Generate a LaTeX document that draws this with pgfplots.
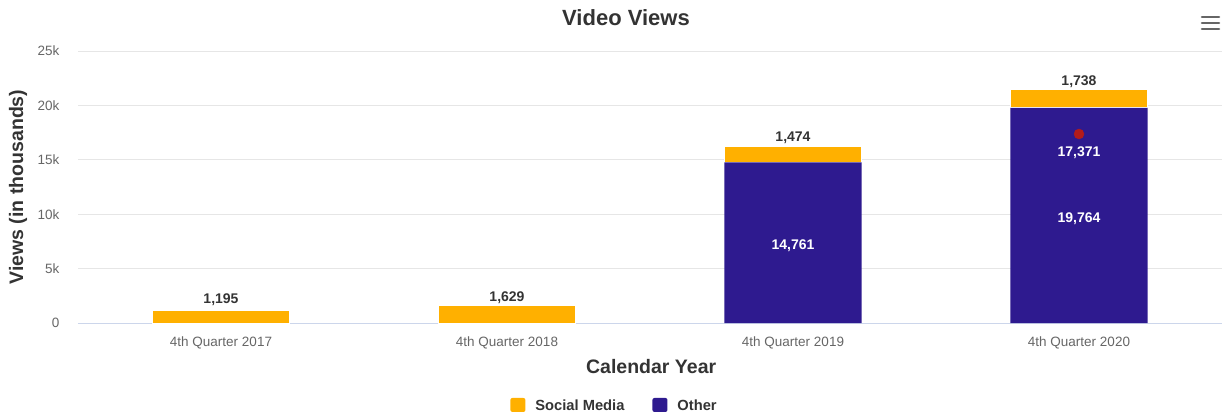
\documentclass[border=0pt]{standalone}
\usepackage{pgfplots}
\pgfplotsset{compat=1.18}
\usepackage{fontspec}
\setmainfont{Liberation Sans}
\definecolor{smorange}{HTML}{FFB000}
\definecolor{othpurple}{HTML}{2E1A8F}
\definecolor{dotred}{HTML}{B31B1B}
\definecolor{txtgray}{HTML}{666666}
\definecolor{txtdark}{HTML}{333333}
\definecolor{gridgray}{HTML}{E6E6E6}
\definecolor{axisblue}{HTML}{CCD6EB}
\pgfplotsset{
  common/.style={
    scale only axis, width=1144pt, height=272pt,
    xmin=-0.5, xmax=3.5, ymin=0, ymax=25000,
    /pgf/number format/assume math mode=true,
  }
}
\begin{document}
\begin{tikzpicture}
\begin{axis}[common,
  ybar stacked, bar width=137pt,
  axis line style={draw=none},
  ymajorgrids, grid style={draw=gridgray, line width=1pt},
  ytick={0,5000,10000,15000,20000,25000},
  yticklabels={0,5k,10k,15k,20k,25k},
  extra y ticks={0}, extra y tick labels={},
  extra y tick style={grid style={draw=axisblue, line width=1pt}},
  scaled y ticks=false,
  xtick={0,1,2,3},
  xticklabels={4th Quarter 2017,4th Quarter 2018,4th Quarter 2019,4th Quarter 2020},
  major tick length=0pt,
  yticklabel style={font=\fontsize{13.5}{15}\selectfont, text=txtgray, anchor=east, xshift=-15pt},
  xticklabel style={font=\fontsize{13.5}{15}\selectfont, text=txtgray, anchor=center, yshift=-20pt},
  title={Video Views},
  title style={at={(axis description cs:0.479,1)}, anchor=center, yshift=27pt,
    font=\fontsize{22}{25}\selectfont\bfseries, text=txtdark},
  xlabel={Calendar Year},
  ylabel={Views (in thousands)},
  every axis x label/.style={at={(axis description cs:0.501,0)}, anchor=center, yshift=-44pt,
    font=\fontsize{19.5}{22}\selectfont\bfseries, text=txtdark},
  every axis y label/.style={at={(axis description cs:-0.0524,0.5)}, anchor=center, rotate=90,
    font=\fontsize{19.5}{22}\selectfont\bfseries, text=txtdark},
  legend columns=2, reverse legend,
  legend style={at={(axis description cs:0.469,-0.305)}, anchor=center, draw=none, fill=none,
    font=\fontsize{14.7}{16}\selectfont\bfseries, text=txtdark,
    /tikz/every even column/.append style={column sep=26pt}},
  legend cell align=left,
]
\addplot[fill=othpurple, draw=none,
  legend image code/.code={\fill[othpurple, draw=none, rounded corners=2pt] (0pt,-6pt) rectangle (15pt,8pt); \path[draw=none, fill=none] (0pt,0pt) -- (23pt,0pt);}]
  coordinates {(0,0) (1,0) (2,14761) (3,19764)};
\addplot[fill=smorange, draw=white, line width=1pt,
  legend image code/.code={\fill[smorange, draw=none, rounded corners=2pt] (0pt,-6pt) rectangle (15pt,8pt); \path[draw=none, fill=none] (0pt,0pt) -- (23pt,0pt);},
  nodes near coords, point meta=explicit symbolic,
  every node near coord/.style={anchor=south, yshift=7pt, font=\fontsize{14}{15}\selectfont\bfseries, text=txtdark}]
  coordinates {(0,1195)[1,195] (1,1629)[1,629] (2,1474)[1,474] (3,1738)[1,738]};
\legend{Other, Social Media}
\end{axis}
\begin{axis}[common, hide axis]
\addplot[only marks, mark=*, mark size=5pt, color=dotred,
  nodes near coords, point meta=explicit symbolic,
  every node near coord/.style={anchor=north, yshift=-9pt, font=\fontsize{14}{15}\selectfont\bfseries, text=white}]
  coordinates {(3,17371)[17,371]};
\addplot[draw=none, mark=none,
  nodes near coords, point meta=explicit symbolic,
  every node near coord/.style={anchor=center, yshift=-3pt, font=\fontsize{14}{15}\selectfont\bfseries, text=white}]
  coordinates {(2,7380.5)[14,761] (3,9882)[19,764]};
\end{axis}
\draw[line width=2.6pt, txtgray, line cap=round] (1124pt,306pt) -- (1141pt,306pt);
\draw[line width=2.6pt, txtgray, line cap=round] (1124pt,300pt) -- (1141pt,300pt);
\draw[line width=2.6pt, txtgray, line cap=round] (1124pt,294pt) -- (1141pt,294pt);
\path[use as bounding box] (-78pt,-95pt) rectangle (1147pt,323pt);
\end{tikzpicture}
\end{document}
